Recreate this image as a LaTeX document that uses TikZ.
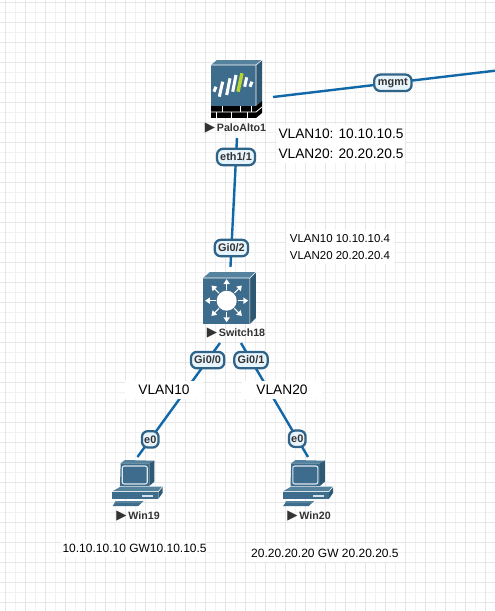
\documentclass[tikz,border=0pt]{standalone}
\usepackage{fontspec}
\setmainfont{Liberation Sans}
\newfontfamily\symfont{DejaVu Sans}
\usetikzlibrary{positioning, calc}
\definecolor{gridmajor}{HTML}{E6E6E6}
\definecolor{gridminor}{HTML}{F1F1F1}
\definecolor{link}{HTML}{1068A8}
\definecolor{iconblue}{HTML}{3D6C8C}
\definecolor{icontop}{HTML}{55839E}
\definecolor{iconside}{HTML}{2F5873}
\definecolor{portfill}{HTML}{E8F4FC}
\definecolor{portedge}{HTML}{2F6388}
\definecolor{textdark}{HTML}{333333}
\definecolor{logogreen}{HTML}{B8D430}
\tikzset{
  pics/firewall/.style={code={
    \fill[icontop] (-26,-32) -- (-20,-37) -- (25,-37) -- (19,-32) -- cycle;
    \fill[iconblue] (-26,-32) rectangle (19,9);
    \fill[iconside] (19,-32) -- (25,-37) -- (25,4) -- (19,9) -- cycle;
    \draw[white, line width=.4pt] (-26,-32) -- (19,-32) -- (25,-37) (19,-32) -- (19,9);
    \fill[black] (-26,9) rectangle (19,21);
    \fill[black] (19,9) -- (25,4) -- (25,16) -- (19,21) -- cycle;
    \draw[white, line width=.6pt] (-26,15) -- (19,15) (19,15) -- (25,10);
    \foreach \bx in {-15,3,14} \draw[white, line width=.5pt] (\bx,9) -- (\bx,15);
    \foreach \bx in {-21,-6,10} \draw[white, line width=.5pt] (\bx,15) -- (\bx,21);
    \foreach \ax/\ay/\bx/\by in {-21/-10.3/-23/-5.3, -14.3/-15.3/-17.7/-.3, -7/-18.7/-10.3/-2, -1/-22/-4.3/-5.3, 9.7/-19.7/7.7/-10.3, 15/-15.3/13/-10.3}
      \draw[white, line width=2.3pt] (\ax,\ay) -- (\bx,\by);
    \draw[logogreen, line width=2.6pt] (5,-23.7) -- (1,-5.3);
  }},
  pics/switchicon/.style={code={
    \fill[icontop] (-27.5,-27) -- (-20.5,-33) -- (25.5,-33) -- (19.5,-27) -- cycle;
    \fill[iconblue] (-27.5,-27) rectangle (19.5,19);
    \fill[iconside] (19.5,-27) -- (25.5,-33) -- (25.5,13) -- (19.5,19) -- cycle;
    \draw[white, line width=.4pt] (-27.5,-27) -- (19.5,-27) -- (25.5,-33) (19.5,-27) -- (19.5,19);
    \begin{scope}[shift={(-3.8,-4.3)}]
      \fill[white] (0,0) circle (10);
      \foreach \ang in {0,45,...,315} {
        \draw[white, line width=.8pt] (\ang:11) -- (\ang:18);
        \fill[white] (\ang:21.5) -- (\ang+11:17) -- (\ang-11:17) -- cycle;
      }
    \end{scope}
  }},
  pics/pcicon/.style={code={
    \fill[icontop] (-16.8,-19.7) -- (-12.5,-23) -- (16.8,-22.3) -- (11.8,-19.7) -- cycle;
    \fill[iconblue] (-16.8,-19.7) -- (11.8,-19.7) -- (11.8,3) -- (-17.5,3) -- cycle;
    \fill[iconside] (11.8,-19.7) -- (16.8,-22.3) -- (16.8,-1.3) -- (11.8,3) -- cycle;
    \draw[white!85!iconblue, line width=.8pt, rounded corners=1.5pt] (-15.2,-17) rectangle (9.8,1);
    \fill[icontop] (-25.5,8.7) -- (-16.8,3.5) -- (25.2,3.5) -- (20.8,8.7) -- cycle;
    \fill[iconblue] (-25.5,8.7) rectangle (20.8,16);
    \fill[iconside] (20.8,8.7) -- (25.2,3.5) -- (25.2,9.7) -- (20.8,16) -- cycle;
    \draw[white, line width=.4pt] (-25.5,8.7) -- (20.8,8.7) -- (25.2,3.5);
    \fill[white!80!iconblue] (4.8,12) rectangle (15.8,14);
    \fill[iconblue] (-21.5,18) -- (5.8,18) -- (.8,23) -- (-24.8,23) -- cycle;
    \fill[icontop] (-21.5,18) -- (5.8,18) -- (3.8,20) -- (-23,20) -- cycle;
  }}
}
\begin{document}
\begin{tikzpicture}[
    x=.75pt, y=-.75pt,
    device/.style={inner sep=0pt, outer sep=0pt},
    linkline/.style={link, line width=1.8pt},
    port/.style={draw=portedge, fill=portfill, text=textdark, line width=1.7pt,
                 rounded corners=4.5pt, inner sep=0pt, minimum height=12.3pt,
                 font=\fontsize{8.2}{9}\selectfont\bfseries},
    devlabel/.style={text=textdark, inner sep=0pt, font=\fontsize{8}{10}\selectfont\bfseries},
    note/.style={fill=white, inner sep=0pt, align=left, text=black}
  ]
    \useasboundingbox (0,0) rectangle (495,611);
    \fill[white] (0,0) rectangle (495,611);

    % grid
    \foreach \gx in {5,15,...,495} \draw[gridminor, line width=.75pt] (\gx,0) -- (\gx,611);
    \foreach \gy in {12,32,...,611} \draw[gridminor, line width=.75pt] (0,\gy) -- (495,\gy);
    \foreach \gx in {5,25,...,495} \draw[gridmajor, line width=.75pt] (\gx,0) -- (\gx,611);
    \foreach \gy in {2,22,...,611} \draw[gridmajor, line width=.75pt] (0,\gy) -- (495,\gy);

    % devices
    \node[device, minimum width=54pt, minimum height=61.5pt] (paloalto) at (237,97) {};
    \node[device, minimum width=15.75pt, minimum height=57pt, below=96.75pt of paloalto, xshift=-4.9pt] (switch) {};
    \node[device, minimum width=37.5pt, minimum height=39pt, below=85.5pt of switch, xshift=-69.75pt] (win19) {};
    \node[device, minimum width=37.5pt, minimum height=39pt, right=90.4pt of win19] (win20) {};
    \coordinate (mgmtout) at (495,70.7);

    % notes
    \node[note, minimum width=96pt, minimum height=28.5pt, font=\fontsize{10.3}{15}\selectfont] (palonote) at (341,144) {VLAN10: 10.10.10.5\\VLAN20: 20.20.20.5};
    \node[note, minimum width=81pt, minimum height=25pt, font=\fontsize{8.6}{12.75}\selectfont] (switchnote) at (340,247) {VLAN10 10.10.10.4\\VLAN20 20.20.20.4};
    \begin{scope}
      \clip (62,540) rectangle (205,557);
      \node[note, anchor=west, minimum height=13pt, minimum width=110pt, font=\fontsize{9}{11}\selectfont] (win19note) at (61,548) {10.10.10.10 GW10.10.10.5};
    \end{scope}
    \begin{scope}
      \clip (250,545) rectangle (397,562);
      \node[note, anchor=west, minimum height=13pt, minimum width=112pt, font=\fontsize{9}{11}\selectfont] (win20note) at (250,553) {20.20.20.20 GW 20.20.20.5};
    \end{scope}

    % links
    \draw[linkline] (paloalto.east) -- node[port, minimum width=28pt, pos=.54] (mgmtport) {mgmt} (mgmtout);
    \draw[linkline] (paloalto.south) -- node[port, minimum width=28.5pt, pos=.147] (ethport) {eth1/1} node[port, minimum width=25pt, pos=.853] (gi02port) {Gi0/2} (switch.north);
    \draw[linkline] (switch.south west) -- node[port, minimum width=25pt, pos=.15] (gi00port) {Gi0/0} node[port, minimum width=12.5pt, pos=.845] (e0left) {e0} (win19.north);
    \draw[linkline] (switch.south east) -- node[port, minimum width=25pt, pos=.15] (gi01port) {Gi0/1} node[port, minimum width=12.5pt, pos=.84] (e0right) {e0} (win20.north);

    % these sit over the links
    \node[note, align=center, minimum width=59pt, minimum height=13pt, font=\fontsize{10.3}{12}\selectfont] (vlanleft) at (164,390) {VLAN10};
    \node[note, align=center, minimum width=60pt, minimum height=13pt, font=\fontsize{10.3}{12}\selectfont] (vlanright) at (282,390) {VLAN20};

    % icons
    \pic at (paloalto.center) {firewall};
    \pic at (switch.center) {switchicon};
    \pic at (win19.center) {pcicon};
    \pic at (win20.center) {pcicon};

    % device names
    \node[devlabel] (paloname) at (235.5,128) {{\symfont\fontsize{10}{10}\selectfont▶}\,PaloAlto1};
    \node[devlabel] (switchname) at (236,333) {{\symfont\fontsize{10}{10}\selectfont▶}\,Switch18};
    \node[devlabel] (win19name) at (138,516) {{\symfont\fontsize{10}{10}\selectfont▶}\,Win19};
    \node[devlabel] (win20name) at (309,516) {{\symfont\fontsize{10}{10}\selectfont▶}\,Win20};
  \end{tikzpicture}
\end{document}
